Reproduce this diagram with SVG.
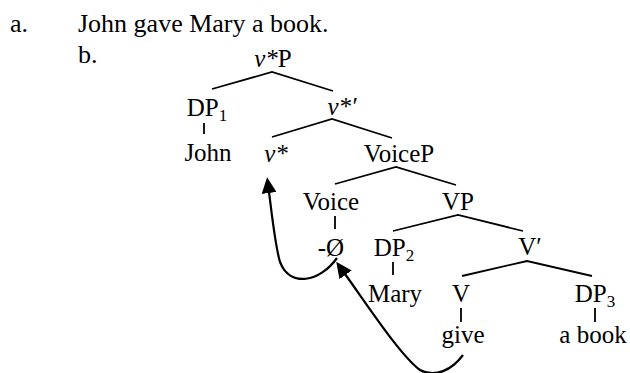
<svg xmlns="http://www.w3.org/2000/svg" width="630" height="373" viewBox="0 0 630 373">
  <style>
    text { font-family: "Liberation Serif", "Times New Roman", serif; font-size: 25px; fill: #000; }
    .ex { font-size: 26px; }
    .n { text-anchor: middle; }
    .it { font-style: italic; }
    .sub { font-size: 17px; }
    .edge { stroke: #000; stroke-width: 1.8; fill: none; stroke-linecap: butt; }
    .move { stroke: #000; stroke-width: 2.2; fill: none; }
  </style>
  <defs>
    <marker id="head" markerUnits="userSpaceOnUse" markerWidth="17" markerHeight="15" refX="1" refY="7.5" orient="auto">
      <path d="M0,0 L16,7.5 L0,15 z" fill="#000"/>
    </marker>
  </defs>

  <!-- example labels and sentence -->
  <g id="labels">
    <text class="ex" x="10" y="32">a.</text>
    <text class="ex" x="78" y="32">John gave Mary a book.</text>
    <text class="ex" x="78" y="63">b.</text>
  </g>

  <!-- tree nodes -->
  <g id="vstarP"><text class="n" x="273" y="67"><tspan class="it">v*</tspan>P</text></g>
  <g id="DP1"><text class="n" x="207" y="116">DP<tspan class="sub" dy="5">1</tspan></text></g>
  <g id="John"><text class="n" x="208" y="161">John</text></g>
  <g id="vstarBar"><text class="n" x="342" y="115"><tspan class="it">v*′</tspan></text></g>
  <g id="vstar"><text class="n" x="276" y="162"><tspan class="it">v*</tspan></text></g>
  <g id="VoiceP"><text class="n" x="399" y="162">VoiceP</text></g>
  <g id="Voice"><text class="n" x="331" y="210">Voice</text></g>
  <g id="VP"><text class="n" x="458" y="210">VP</text></g>
  <g id="null"><text class="n" x="331" y="256">-Ø</text></g>
  <g id="DP2"><text class="n" x="394" y="256">DP<tspan class="sub" dy="5">2</tspan></text></g>
  <g id="Vbar"><text class="n" x="530" y="255">V′</text></g>
  <g id="Mary"><text class="n" x="395" y="302">Mary</text></g>
  <g id="V"><text class="n" x="461" y="302">V</text></g>
  <g id="DP3"><text class="n" x="595" y="302">DP<tspan class="sub" dy="5">3</tspan></text></g>
  <g id="give"><text class="n" x="463" y="343">give</text></g>
  <g id="abook"><text class="n" x="593" y="343">a book</text></g>

  <!-- branches and movement arrows -->
  <g id="connectors">
    <path class="edge" d="M212,89 L272,72 L333,91"/>
    <path class="edge" d="M272,137 L332,119 L392,138"/>
    <path class="edge" d="M335,184 L396,167 L456,185"/>
    <path class="edge" d="M393,231 L458,215 L523,231"/>
    <path class="edge" d="M462,276 L527,261 L592,276"/>
    <path class="edge" d="M204,123 V134"/>
    <path class="edge" d="M335,216 V229"/>
    <path class="edge" d="M393,262 V275"/>
    <path class="edge" d="M461,308 V322"/>
    <path class="edge" d="M595,308 V322"/>
    <path class="move" marker-end="url(#head)" d="M337,258 C320,282 290,288 280,262 C275,245 272,215 269,192"/>
    <path class="move" marker-end="url(#head)" d="M463,355 C452,370 435,378 420,370 C400,355 368,306 345,274"/>
  </g>
</svg>
